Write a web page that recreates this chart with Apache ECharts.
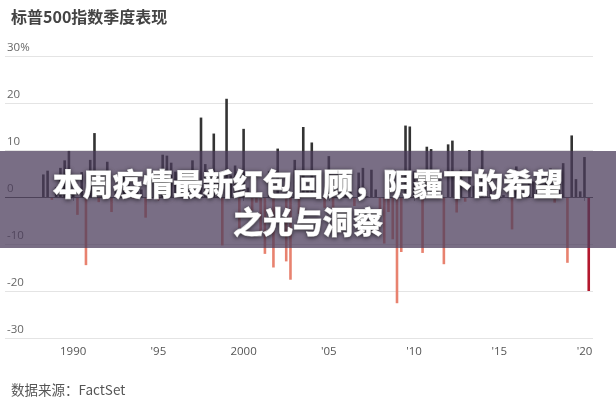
<!DOCTYPE html>
<html>
<head>
<meta charset="utf-8">
<script src="https://cdn.jsdelivr.net/npm/echarts@6/dist/echarts.min.js"></script>
<style>
html,body{margin:0;padding:0;background:#fff;}
#chart{width:616px;height:400px;}
</style>
</head>
<body>
<div id="chart"></div>
<script>
// ---- data ----
const chartTitle = '标普500指数季度表现';
const sourceText = '数据来源：FactSet';
const overlayText = '本周疫情最新红包回顾，阴霾下的希望\n之光与洞察';
const startYear = 1988;
// quarterly % change, 1988 Q1 .. 2020 Q1
const returns = [
  4.8, 5.6, -0.6, 2.1,
  6.2, 7.8, 9.8, 1.2,
  -3.8, 5.3, -14.5, 7.9,
  13.6, -1.1, 4.5, 7.5,
  -3.2, 1.2, 2.3, 4.4,
  3.7, -0.3, 2.0, 1.6,
  -4.4, -0.3, 4.3, -0.7,
  9.0, 8.8, 7.3, 5.4,
  4.8, 3.9, 2.5, 7.8,
  2.2, 16.9, 7.0, 2.4,
  13.5, 2.9, -10.3, 20.9,
  4.6, 6.7, -6.6, 14.5,
  2.0, -2.9, -1.2, -8.1,
  -12.1, 5.5, -15.0, 10.3,
  -0.1, -13.7, -17.6, 7.9,
  -3.6, 14.9, 2.2, 11.6,
  1.3, 0.9, -2.3, 8.7,
  -2.6, 0.9, 3.2, 1.6,
  3.7, -1.9, 5.2, 6.2,
  0.2, 5.8, 1.6, -3.8,
  -9.9, -3.2, -9.0, -22.6,
  -11.7, 15.2, 15.0, 5.5,
  4.9, -11.9, 10.7, 10.2,
  5.4, -0.4, -14.3, 11.2,
  12.0, -3.3, 5.8, -1.0,
  10.0, 2.4, 4.7, 9.9,
  1.3, 4.7, 0.6, 4.4,
  0.4, -0.2, -6.9, 6.5,
  0.8, 1.9, 3.3, 3.3,
  5.5, 2.6, 4.0, 6.1,
  -1.2, 2.9, 7.2, -14.0,
  13.1, 3.8, 1.2, 8.5,
  -20.0
];
const xTicks = [1990, 1995, 2000, 2005, 2010, 2015, 2020];
const xTickLabels = ['1990', "'95", '2000', "'05", "'10", "'15", "'20"];
const yTicks = [-30, -20, -10, 0, 10, 20, 30];
const yTickLabels = ['-30', '-20', '-10', '0', '10', '20', '30%'];

// ---- build ----
const posColor = '#333333';
const negColor = '#e8826f';
const lastColor = '#b3182d';
const barData = returns.map((v, i) => {
  const year = startYear + Math.floor(i / 4);
  const q = (i % 4) + 1;
  const isLast = i === returns.length - 1;
  return {
    value: [year + q / 4, v],
    itemStyle: { color: isLast ? lastColor : (v >= 0 ? posColor : negColor) }
  };
});

const chart = echarts.init(document.getElementById('chart'));
chart.setOption({
  animation: false,
  backgroundColor: '#fff',
  title: [
    { text: chartTitle, left: 6, top: 4,
      textStyle: { fontFamily: 'Noto Sans CJK SC', fontSize: 16, fontWeight: 'bold', color: '#444' } },
    { text: sourceText, left: 6, top: 378,
      textStyle: { fontFamily: 'Noto Sans CJK SC', fontSize: 13.5, fontWeight: 'normal', color: '#555' } }
  ],
  grid: { left: 5, right: 23, top: 56, bottom: 62, containLabel: false },
  xAxis: {
    type: 'value', min: 1986, max: 2020.5,
    axisLine: { show: false },
    splitLine: { show: false },
    axisTick: { show: true, customValues: xTicks, length: 4, lineStyle: { color: '#999' } },
    axisLabel: {
      customValues: xTicks, margin: 8, color: '#555', fontSize: 11.5, fontFamily: 'Open Sans',
      formatter: v => xTickLabels[xTicks.indexOf(Math.round(v))] || ''
    }
  },
  yAxis: {
    type: 'value', min: -30, max: 30, interval: 10,
    axisLine: { show: false }, axisTick: { show: false },
    splitLine: { lineStyle: { color: '#e4e4e4', width: 1 } },
    axisLabel: {
      inside: true, margin: 2, verticalAlign: 'bottom', padding: [0, 0, 2, 0],
      color: '#666', fontSize: 11.5, fontFamily: 'Open Sans',
      formatter: v => yTickLabels[yTicks.indexOf(v)]
    }
  },
  series: [{
    type: 'bar', barWidth: 2.6, data: barData, z: 3,
    markLine: {
      silent: true, symbol: 'none', label: { show: false },
      lineStyle: { color: '#555', type: 'solid', width: 1 },
      data: [{ yAxis: 0 }]
    }
  }],
  graphic: [
    { type: 'rect', z: 100, shape: { x: 0, y: 151, width: 616, height: 97 },
      style: { fill: 'rgba(74,60,90,0.74)' } },
    { type: 'text', z: 101, x: 308, y: 203,
      style: {
        text: overlayText, textAlign: 'center', textVerticalAlign: 'middle',
        font: '900 30px "Noto Sans CJK SC"', fill: '#fff', lineHeight: 38,
        stroke: '#fff', lineWidth: 0.8,
        textShadowColor: 'rgba(0,0,0,0.6)', textShadowBlur: 4, textShadowOffsetY: 1
      } }
  ]
});
</script>
</body>
</html>
